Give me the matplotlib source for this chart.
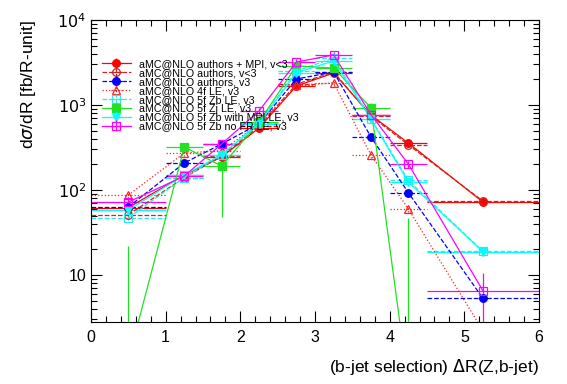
import numpy as np
import matplotlib
matplotlib.use("Agg")
import matplotlib.pyplot as plt
from matplotlib.ticker import FixedLocator, MultipleLocator, NullFormatter, LogLocator

plt.rcParams['font.family'] = ['Liberation Sans', 'DejaVu Sans']

# bins in Delta R(Z, b-jet)
bin_lo = [0.0, 1.0, 1.5, 2.0, 2.5, 3.0, 3.5, 4.0, 4.5]
bin_hi = [1.0, 1.5, 2.0, 2.5, 3.0, 3.5, 4.0, 4.5, 6.0]

# d sigma / dR values [fb/R-unit]
mpi_old = [62, 150, 245, 535, 1670, 2380, 760, 357, 72]
auth_old = [51, 140, 250, 560, 1750, 2450, 740, 340, 74]
auth_v3 = [63, 208, 348, 600, 2020, 2440, 420, 93, 5.3]
lo_4f = [87, 272, 290, 600, 1700, 1815, 258, 60, 2.2]
zb_le = [47, 140, 260, 620, 2500, 3570, 690, 130, 19]
zj_le = [1.0, 320, 191, 630, 2880, 2720, 922, 0.5, 0.3]
zb_mpi = [58, 150, 260, 600, 2400, 3300, 680, 124, 18.7]
zb_nofr = [72, 146, 348, 850, 3200, 3880, 770, 202, 6.5]

# vertical errors (lower, upper)
zj_err_lo = [0.99, 40, 143, 120, 300, 300, 120, 0.49, 0.29]
zj_err_up = [21, 40, 143, 120, 300, 300, 120, 46, 0.1]
nofr_err = [6, 12, 25, 60, 250, 300, 60, 20, 4]
mpi_err = [5, 10, 18, 35, 90, 120, 45, 25, 7]

labels = ["aMC@NLO authors + MPI, v<3", "aMC@NLO authors, v<3",
          "aMC@NLO authors, v3", "aMC@NLO 4f LE, v3",
          "aMC@NLO 5f Zb LE, v3", "aMC@NLO 5f Zj LE, v3",
          "aMC@NLO 5f Zb with MPI LE, v3", "aMC@NLO 5f Zb no FR LE, v3"]

lo = np.array(bin_lo)
hi = np.array(bin_hi)
x = (lo + hi) / 2
xerr = (hi - lo) / 2

fig = plt.figure(figsize=(5.67, 3.84), dpi=100)
ax = fig.add_axes([0.1605, 0.1615, 0.7901, 0.7865])

series = [
    (mpi_old, "#ff0000", "-", "o", True, np.array(mpi_err)),
    (auth_old, "#d42020", "--", "o", False, np.array(mpi_old) * 0.05),
    (auth_v3, "#0000ff", "--", "o", True, np.array(auth_v3) * 0.05),
    (lo_4f, "#ff2020", ":", "^", False, np.array(lo_4f) * 0.08),
    (zb_le, "#33e6e6", "--", "s", False, np.array(zb_le) * 0.06),
    (zj_le, "#22e022", "-", "s", True, [zj_err_lo, zj_err_up]),
    (zb_mpi, "#00ffff", "-", "v", True, np.array(zb_mpi) * 0.1),
    (zb_nofr, "#ff00ff", "-", "s", False, np.array(nofr_err)),
]

handles = []
for (vals, col, ls, mk, filled, yerr), lab in zip(series, labels):
    eb = ax.errorbar(x, vals, xerr=xerr, yerr=yerr, color=col, ls=ls, lw=0.9,
                     marker=mk, ms=5.5, mfc=col if filled else "none",
                     mec=col, mew=0.9, elinewidth=0.9, capsize=0, label=lab)
    for c in eb[2]:
        c.set_linestyle(ls)
    handles.append(eb)

ax.set_yscale("log")
ax.set_xlim(0, 6)
ax.set_ylim(2.8, 1e4)

ax.xaxis.set_major_locator(MultipleLocator(1))
ax.xaxis.set_minor_locator(MultipleLocator(0.2))
ax.yaxis.set_major_locator(FixedLocator([10, 100, 1000, 10000]))
ax.yaxis.set_minor_locator(LogLocator(base=10, subs=np.arange(2, 10)))
ax.yaxis.set_minor_formatter(NullFormatter())
ax.set_yticklabels(["10", "$10^2$", "$10^3$", "$10^4$"])

ax.tick_params(which="both", direction="in", top=True, right=True, labelsize=11.5)
ax.tick_params(which="major", length=8, width=0.8)
ax.tick_params(which="minor", length=4, width=0.8)
ax.tick_params(axis="x", pad=6)

ax.set_xlabel("(b-jet selection) $\\Delta$R(Z,b-jet)", fontsize=12.5, loc="right")
ax.xaxis.set_label_coords(1.0, -0.115)
ax.set_ylabel("d$\\sigma$/dR [fb/R-unit]", fontsize=12.5, loc="top")
ax.yaxis.set_label_coords(-0.118, 1.0)

leg = ax.legend(handles=handles, loc="upper left", bbox_to_anchor=(0.015, 0.885),
                frameon=False, fontsize=7.7, labelspacing=-0.1, handlelength=2.7,
                handletextpad=0.8, borderaxespad=0)

fig.savefig("out.png", dpi=100)
